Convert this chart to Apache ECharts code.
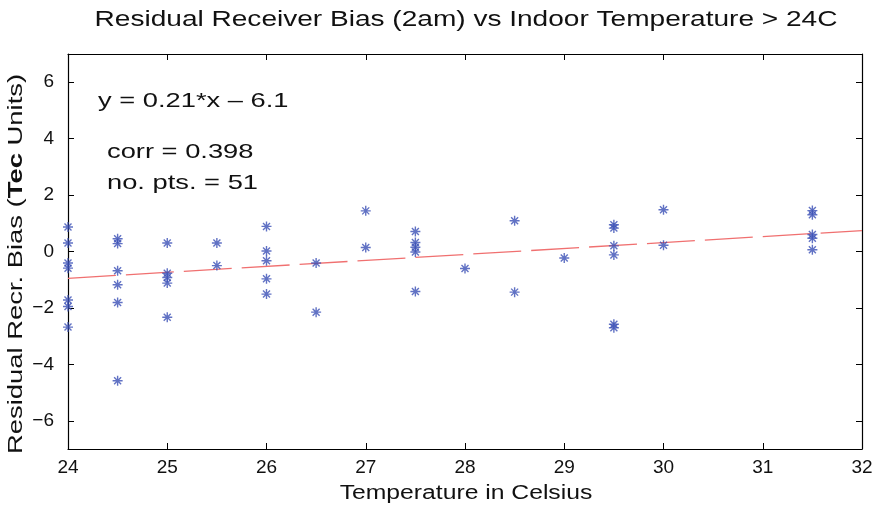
<!DOCTYPE html>
<html><head><meta charset="utf-8">
<script src="https://cdn.jsdelivr.net/npm/echarts@6/dist/echarts.min.js"></script>
<style>html,body{margin:0;padding:0;background:#fff}#c{width:883px;height:510px}</style>
</head><body><div id="c"></div>
<script>
// Temperature (C) and residual bias (TEC units)
const temps = [
  24,24,24,24,24,24,24,
  24.5,24.5,24.5,24.5,24.5,24.5,
  25,25,25,25,25,
  25.5,25.5,
  26,26,26,26,26,
  26.5,26.5,
  27,27,
  27.5,27.5,27.5,27.5,27.5,
  28,
  28.5,28.5,
  29,
  29.5,29.5,29.5,29.5,29.5,29.5,
  30,30,
  31.5,31.5,31.5,31.5,31.5
];
const bias = [
  0.87,0.30,-0.41,-0.59,-1.72,-1.95,-2.68,
  0.45,0.28,-0.68,-1.18,-1.81,-4.58,
  0.30,-0.77,-0.92,-1.12,-2.33,
  0.30,-0.50,
  0.89,0.02,-0.33,-0.97,-1.51,
  -0.41,-2.15,
  1.44,0.14,
  0.71,0.32,0.15,-0.02,-1.42,
  -0.60,
  1.09,-1.44,
  -0.23,
  0.95,0.83,0.20,-0.12,-2.58,-2.70,
  1.48,0.22,
  1.45,1.30,0.60,0.47,0.06
];
const fitX = [24, 32];
const fitY = [-0.95, 0.74];
const xTicks = [24,25,26,27,28,29,30,31,32];
const yTicks = [-6,-4,-2,0,2,4,6];
const titleText = 'Residual Receiver Bias (2am) vs Indoor Temperature > 24C';
const xName = 'Temperature in Celsius';
const yNameA = 'Residual Recr. Bias (';
const yNameB = 'Tec';
const yNameC = ' Units)';
const notes = ['y = 0.21*x \u2013 6.1', 'corr = 0.398', 'no. pts. = 51'];

const font = 'Liberation Sans, Arial, Helvetica, sans-serif';
const star = 'path://M0,-5L0,5M-5,0L5,0M-3.5,-3.5L3.5,3.5M-3.5,3.5L3.5,-3.5';
const chart = echarts.init(document.getElementById('c'));
const axisCommon = {
  axisLine: {show: true, onZero: false, lineStyle: {color: '#000', width: 1.2}},
  axisTick: {show: true, inside: true, length: 6, lineStyle: {color: '#000'}},
  splitLine: {show: false}
};
const fmt = v => (v < 0 ? '\u2212' + Math.abs(v) : String(v));
function stretched(text, x, y, size, sx, align, extra) {
  return Object.assign({type: 'text', x: x, y: y, scaleX: sx,
    style: {text: text, x: 0, y: 0, font: size + 'px ' + font, fill: '#111',
      align: align, verticalAlign: 'middle'}}, extra || {});
}
chart.setOption({
  animation: false,
  backgroundColor: '#fff',
  grid: {left: 68, right: 21, top: 54, bottom: 61},
  xAxis: [
    Object.assign({type: 'value', min: 24, max: 32, interval: 1, position: 'bottom',
      axisLabel: {show: true, fontFamily: font, fontSize: 19, color: '#111', margin: 9,
        customValues: xTicks}}, axisCommon,
      {axisTick: Object.assign({}, axisCommon.axisTick, {customValues: xTicks})}),
    Object.assign({type: 'value', min: 24, max: 32, interval: 1, position: 'top',
      axisLabel: {show: false}}, axisCommon,
      {axisTick: Object.assign({}, axisCommon.axisTick, {customValues: xTicks})})
  ],
  yAxis: [
    Object.assign({type: 'value', min: -7, max: 7, position: 'left',
      axisLabel: {show: true, fontFamily: font, fontSize: 19, color: '#111', margin: 14,
        customValues: yTicks, formatter: fmt}}, axisCommon,
      {axisTick: Object.assign({}, axisCommon.axisTick, {customValues: yTicks})}),
    Object.assign({type: 'value', min: -7, max: 7, position: 'right',
      axisLabel: {show: false}}, axisCommon,
      {axisTick: Object.assign({}, axisCommon.axisTick, {customValues: yTicks})})
  ],
  graphic: [
    stretched(titleText, 466, 20, 22, 1.275, 'center'),
    stretched(notes[0], 98, 101, 21, 1.3, 'left'),
    stretched(notes[1], 107, 152, 21, 1.3, 'left'),
    stretched(notes[2], 107, 183, 21, 1.3, 'left'),
    stretched(xName, 466, 493, 20, 1.235, 'center'),
    {type: 'text', x: 16, y: 264, rotation: Math.PI / 2, scaleX: 1.37,
      style: {x: 0, y: 0, align: 'center', verticalAlign: 'middle',
        text: '{n|' + yNameA + '}{b|' + yNameB + '}{n|' + yNameC + '}',
        rich: {n: {font: '20px ' + font, fill: '#111'},
               b: {font: 'bold 20px ' + font, fill: '#111'}}}}
  ],
  series: [
    {type: 'line', data: fitX.map((x, i) => [x, fitY[i]]), symbol: 'none',
      lineStyle: {color: '#f07070', width: 1.3, type: [48, 10]}, z: 1, silent: true},
    {type: 'scatter', data: temps.map((t, i) => [t, bias[i]]), symbol: star, symbolSize: 10,
      itemStyle: {color: 'rgba(0,0,0,0)', borderColor: '#3a4fb5', borderWidth: 1.4}, z: 2}
  ]
});
</script></body></html>
